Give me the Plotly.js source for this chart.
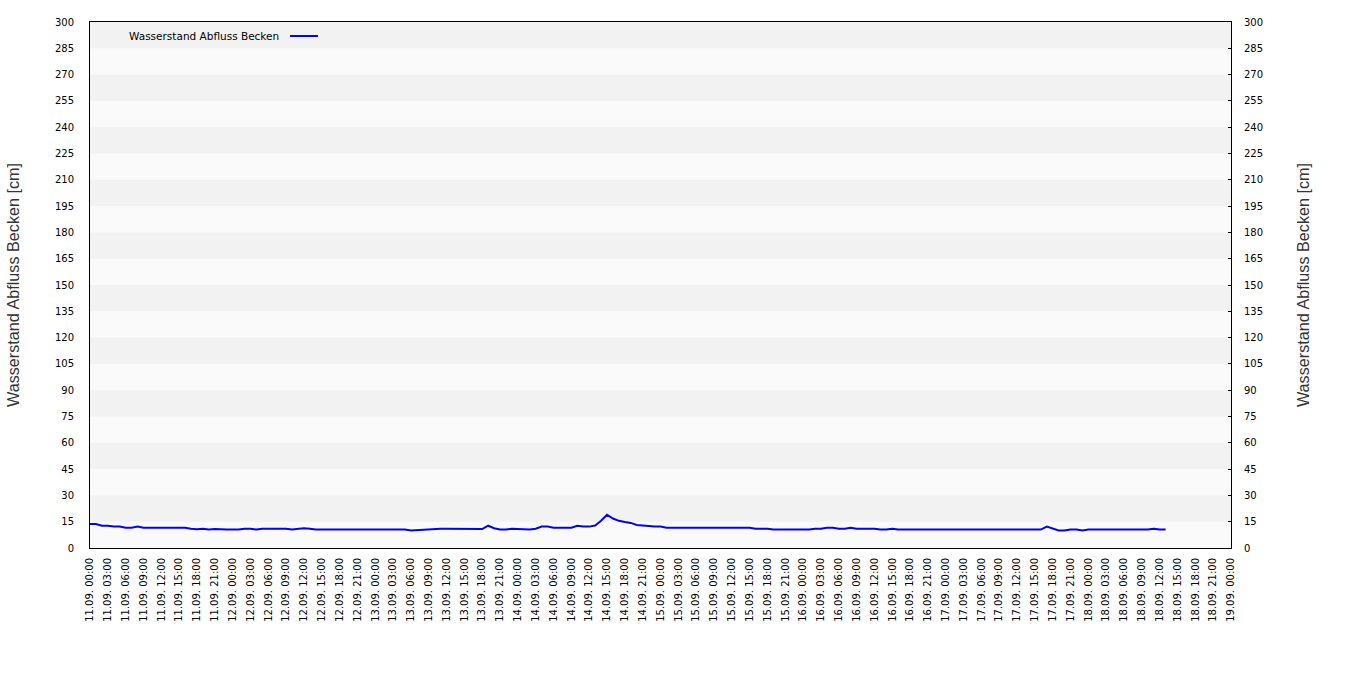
<!DOCTYPE html>
<html>
<head>
<meta charset="utf-8">
<script src="https://cdn.plot.ly/plotly-3.0.1.min.js"></script>
<style>html,body{margin:0;padding:0;background:#fff}#chart{width:1350px;height:700px}</style>
</head>
<body>
<div id="chart"></div>
<script>
// Start of the series and hourly readings (cm)
const startTime = "2024-09-11T00:00:00";
const seriesName = "Wasserstand Abfluss Becken";
const axisTitle = "Wasserstand Abfluss Becken [cm]";
const levelCm = [
  13.7, 13.7, 12.7, 12.7, 12.2, 12.2, 11.6, 11.6, 12.2, 11.5,
  11.5, 11.5, 11.5, 11.5, 11.5, 11.5, 11.5, 11.0, 10.7, 11.0,
  10.5, 10.8, 10.5, 10.5, 10.5, 10.5, 11.0, 11.0, 10.5, 11.0,
  11.0, 11.0, 11.0, 11.0, 10.5, 11.0, 11.3, 11.0, 10.5, 10.5,
  10.5, 10.5, 10.5, 10.5, 10.5, 10.5, 10.5, 10.5, 10.5, 10.5,
  10.5, 10.5, 10.5, 10.5, 10.0, 10.2, 10.5, 11.0, 11.0, 11.0,
  11.0, 11.0, 11.0, 11.0, 11.0, 10.8, 10.8, 12.7, 11.3, 10.5,
  10.5, 11.0, 10.7, 10.5, 10.5, 11.0, 12.2, 12.2, 11.6, 11.6,
  11.6, 11.6, 12.7, 12.2, 12.2, 12.8, 15.5, 19.0, 16.8, 15.5,
  14.8, 14.3, 13.1, 12.7, 12.2, 12.2, 12.2, 11.6, 11.6, 11.6,
  11.6, 11.6, 11.6, 11.6, 11.6, 11.6, 11.6, 11.6, 11.6, 11.6,
  11.6, 11.6, 11.0, 11.0, 11.0, 10.5, 10.5, 10.5, 10.5, 10.5,
  10.5, 10.5, 11.0, 11.0, 11.6, 11.6, 11.0, 11.0, 11.6, 11.0,
  11.0, 11.0, 11.0, 10.5, 10.5, 11.0, 10.5, 10.5, 10.5, 10.5,
  10.5, 10.5, 10.5, 10.5, 10.5, 10.5, 10.5, 10.5, 10.5, 10.5,
  10.5, 10.5, 10.5, 10.5, 10.5, 10.5, 10.5, 10.5, 10.5, 10.5,
  10.5, 12.2, 11.0, 10.0, 10.0, 10.5, 10.5, 10.0, 10.5, 10.5,
  10.5, 10.5, 10.5, 10.5, 10.5, 10.5, 10.5, 10.5, 10.5, 11.0,
  10.5, 10.5
];
const xRange = ["2024-09-11 00:00", "2024-09-19 00:00"];
const yRange = [0, 300];
const yStep = 15;

const t0 = new Date(startTime).getTime();
function fmt(ms){
  const d = new Date(ms);
  const p = n => String(n).padStart(2,"0");
  return d.getFullYear()+"-"+p(d.getMonth()+1)+"-"+p(d.getDate())+" "+p(d.getHours())+":"+p(d.getMinutes());
}
const times = levelCm.map((_, i) => fmt(t0 + i*3600000));

const shapes = [];
for (let v = yStep; v < yRange[1]; v += 2*yStep) {
  shapes.push({type:"rect", xref:"paper", yref:"y", x0:0, x1:1, y0:v, y1:v+yStep,
    fillcolor:"#f2f2f2", line:{width:0}, layer:"below"});
}
// legend sample line (right of text)
shapes.push({type:"line", xref:"paper", yref:"paper", x0:0.1753, x1:0.1998, y0:0.9734, y1:0.9734,
  line:{color:"#0000ff", width:2}});

const tickFont = {family:"DejaVu Sans", size:10, color:"#000"};
const titleFont = {family:"Liberation Sans", size:16.2, color:"#333"};

const data = [
  {x:times, y:levelCm, type:"scatter", mode:"lines", name:seriesName,
   line:{color:"#0000ff", width:2, shape:"linear"}, showlegend:false, hoverinfo:"x+y"},
  {x:times, y:levelCm, type:"scatter", mode:"lines", yaxis:"y2", showlegend:false,
   line:{width:0}, opacity:0, hoverinfo:"skip"}
];

const layout = {
  width:1350, height:700,
  margin:{l:90, r:119, t:22, b:152},
  paper_bgcolor:"#ffffff", plot_bgcolor:"#fafafa",
  showlegend:false,
  xaxis:{type:"date", range:xRange, dtick:3*3600000, tick0:xRange[0],
    tickformat:"%d.%m. %H:%M", tickangle:-90, tickfont:tickFont,
    showgrid:false, zeroline:false, showline:true, linecolor:"#000", linewidth:1,
    mirror:true, ticks:"", automargin:false, ticklabelstandoff:5},
  yaxis:{range:yRange, dtick:yStep, tick0:0, tickfont:tickFont, showgrid:false, zeroline:false,
    showline:true, linecolor:"#000", linewidth:1, mirror:true, ticks:"",
    automargin:false, ticklabelstandoff:13,
    title:{text:axisTitle, font:titleFont, standoff:31}},
  yaxis2:{range:yRange, dtick:yStep, tick0:0, overlaying:"y", side:"right", tickfont:tickFont,
    showgrid:false, zeroline:false, showline:false, ticks:"inside", ticklen:3, tickcolor:"#000",
    automargin:false, ticklabelstandoff:12,
    title:{text:axisTitle, font:titleFont, standoff:35}},
  shapes:shapes,
  annotations:[{xref:"paper", yref:"paper", x:0.0325, y:0.9734, xanchor:"left", yanchor:"middle",
    text:seriesName, showarrow:false, font:{family:"DejaVu Sans", size:10.5, color:"#000"}}]
};

Plotly.newPlot("chart", data, layout, {displayModeBar:false, staticPlot:true});
</script>
</body>
</html>
